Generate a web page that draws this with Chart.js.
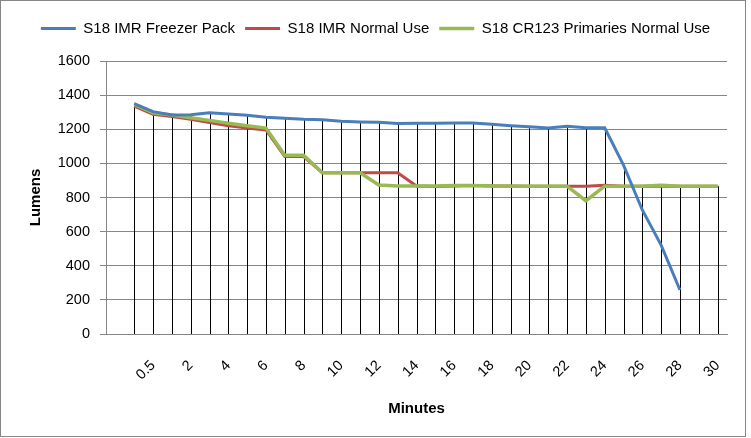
<!DOCTYPE html>
<html>
<head>
<meta charset="utf-8">
<script src="https://cdn.jsdelivr.net/npm/chart.js@4.4.1/dist/chart.umd.min.js"></script>
<style>
    body { margin: 0; background: #fff; }
    #wrap { position: relative; width: 751px; height: 438px; }
    #frame { position: absolute; left: 0; top: 0; width: 746px; height: 437px; box-sizing: border-box; border: 1px solid #868686; pointer-events: none; }
</style>
</head>
<body>
<div id="wrap">
    <canvas id="myLineChart" width="751" height="438"></canvas>
    <div id="frame"></div>
</div>
<script>
// first category is an empty slot, as in the original sheet
const minutes = ['', '0', '0.5', '1', '2', '3', '4', '5', '6', '7', '8', '9', '10', '11', '12', '13', '14', '15',
    '16', '17', '18', '19', '20', '21', '22', '23', '24', '25', '26', '27', '28', '29', '30'];

const freezer_pack = [null, 1350, 1303, 1284, 1285, 1297, 1290, 1282, 1270, 1264, 1258, 1256, 1247, 1243, 1241, 1233,
    1235, 1235, 1237, 1237, 1229, 1221, 1215, 1207, 1217, 1209, 1209, 990, 727, 521, 258, null, null];

const imr_normal = [null, 1336, 1288, 1274, 1258, 1239, 1221, 1207, 1196, 1040, 1040, 945, 945, 945, 945, 945,
    867, 865, 868, 870, 868, 867, 866, 866, 866, 866, 872, 866, 866, 868, 866, 866, 866];

const cr123_normal = [null, 1345, 1297, 1284, 1268, 1252, 1235, 1221, 1207, 1047, 1047, 945, 945, 945, 873, 867,
    867, 868, 870, 870, 868, 866, 866, 866, 866, 781, 866, 866, 866, 872, 866, 866, 866];

const lumen_ticks = [0, 200, 400, 600, 800, 1000, 1200, 1400, 1600];

const font_family = "'Liberation Sans', Arial, sans-serif";

window.onload = () => {
    line_graph();
}

// vertical drop lines from the highest point of each category down to 0
const drop_lines = {
    id: 'dropLines',
    beforeDatasetsDraw(chart) {
        const ctx = chart.ctx;
        const x = chart.scales.x;
        const y = chart.scales.y;
        ctx.save();
        ctx.strokeStyle = '#000';
        ctx.lineWidth = 1;
        for (let i = 0; i < minutes.length; i++) {
            let vals = [freezer_pack[i], imr_normal[i], cr123_normal[i]].filter(v => v !== null);
            if (vals.length === 0) continue;
            let px = Math.round(x.getPixelForValue(i)) + 0.5;
            ctx.beginPath();
            ctx.moveTo(px, y.getPixelForValue(Math.max(...vals)));
            ctx.lineTo(px, y.getPixelForValue(0));
            ctx.stroke();
        }
        ctx.restore();
    }
};

// legend: fixed height, centred on the whole canvas
const legend_place = {
    id: 'legendPlace',
    beforeInit(chart) {
        const fit = chart.legend.fit;
        chart.legend.fit = function () {
            fit.bind(chart.legend)();
            this.height = 50;
        };
    },
    afterLayout(chart) {
        chart.legend.left = 0;
        chart.legend.right = chart.width;
    }
};

function line_graph() {
    const ctx = document.getElementById('myLineChart').getContext('2d');

    window.myLineChart = new Chart(ctx, {
        type: 'line',
        data: {
            labels: minutes,
            datasets: [{
                label: 'S18 IMR Freezer Pack',
                data: freezer_pack,
                borderColor: '#4A7EBB',
                backgroundColor: '#4A7EBB',
                borderWidth: 3,
                order: 0
            }, {
                label: 'S18 IMR Normal Use',
                data: imr_normal,
                borderColor: '#BE4B48',
                backgroundColor: '#BE4B48',
                borderWidth: 3,
                order: 2
            }, {
                label: 'S18 CR123 Primaries Normal Use',
                data: cr123_normal,
                borderColor: '#98B954',
                backgroundColor: '#98B954',
                borderWidth: 3.5,
                order: 1
            }]
        },
        options: {
            responsive: false,
            animation: false,
            layout: {
                padding: { top: 11, right: 24, left: 0, bottom: 0 }
            },
            elements: {
                point: { radius: 0 },
                line: { tension: 0 }
            },
            plugins: {
                legend: {
                    position: 'top',
                    labels: {
                        sort: (a, b) => a.datasetIndex - b.datasetIndex,
                        boxWidth: 35,
                        boxHeight: 0,
                        padding: 10,
                        color: '#000',
                        font: { family: font_family, size: 15 }
                    }
                },
                tooltip: { enabled: false }
            },
            scales: {
                x: {
                    offset: true,
                    afterFit: (scale) => { scale.height = 104; },
                    grid: { display: false },
                    border: { display: true, color: '#868686' },
                    ticks: {
                        autoSkip: false,
                        minRotation: 45,
                        maxRotation: 45,
                        padding: 15,
                        color: '#000',
                        font: { family: font_family, size: 14.5 },
                        callback: (value, index) => index % 2 === 0 ? minutes[index] : ''
                    },
                    title: {
                        display: true,
                        text: 'Minutes',
                        color: '#000',
                        padding: { top: 0, bottom: 20 },
                        font: { family: font_family, size: 15, weight: 'bold' }
                    }
                },
                y: {
                    min: 0,
                    max: 1600,
                    afterFit: (scale) => { scale.width = 106; },
                    afterBuildTicks: (scale) => { scale.ticks = lumen_ticks.map(v => ({ value: v })); },
                    grid: { color: '#868686', tickLength: 6 },
                    border: { display: true, color: '#868686' },
                    ticks: {
                        padding: 10,
                        color: '#000',
                        font: { family: font_family, size: 14.5 },
                        callback: (value) => String(value)
                    },
                    title: {
                        display: true,
                        text: 'Lumens',
                        color: '#000',
                        padding: { top: 27, bottom: 0 },
                        font: { family: font_family, size: 15, weight: 'bold' }
                    }
                }
            }
        },
        plugins: [drop_lines, legend_place]
    });
}
</script>
</body>
</html>
